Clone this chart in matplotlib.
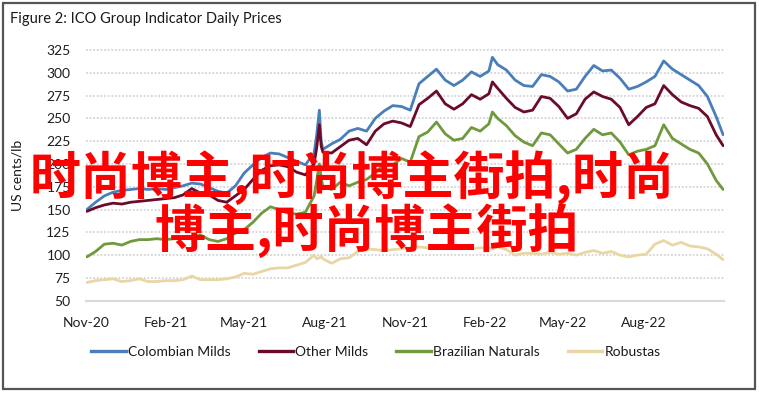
import matplotlib
matplotlib.use('Agg')
import matplotlib.pyplot as plt
from matplotlib.patches import Rectangle
from matplotlib.lines import Line2D
import pandas as pd

# ---------------- data ----------------
dates = [
    '2020-11-02', '2020-11-12', '2020-11-22', '2020-12-02', '2020-12-12', '2020-12-22',
    '2021-01-01', '2021-01-11', '2021-01-21', '2021-01-31', '2021-02-10', '2021-02-20',
    '2021-03-02', '2021-03-12', '2021-03-22', '2021-04-01', '2021-04-11', '2021-04-21',
    '2021-05-01', '2021-05-11', '2021-05-21', '2021-05-31', '2021-06-10', '2021-06-20',
    '2021-06-30', '2021-07-10', '2021-07-20', '2021-07-23', '2021-07-26', '2021-07-28',
    '2021-07-30', '2021-08-09', '2021-08-19', '2021-08-29', '2021-09-08', '2021-09-18',
    '2021-09-28', '2021-10-08', '2021-10-18', '2021-10-28', '2021-11-07', '2021-11-17',
    '2021-11-27', '2021-12-07', '2021-12-17', '2021-12-27', '2022-01-06', '2022-01-16',
    '2022-01-26', '2022-02-05', '2022-02-09', '2022-02-15', '2022-02-25', '2022-03-07',
    '2022-03-17', '2022-03-27', '2022-04-06', '2022-04-16', '2022-04-26', '2022-05-06',
    '2022-05-16', '2022-05-26', '2022-06-05', '2022-06-15', '2022-06-25', '2022-07-05',
    '2022-07-15', '2022-07-25', '2022-08-04', '2022-08-14', '2022-08-24', '2022-09-03',
    '2022-09-13', '2022-09-23', '2022-10-03', '2022-10-13', '2022-10-23', '2022-10-31',
]

colombian_milds = [
    150, 158, 165, 169, 171, 172,
    173, 172, 173, 172, 174, 176,
    179, 178, 174, 170, 168, 176,
    190, 199, 207, 212, 211, 207,
    203, 199, 212, 232, 259, 226,
    216, 222, 227, 236, 239, 236,
    250, 258, 264, 263, 259, 288,
    296, 304, 292, 286, 292, 301,
    296, 302, 317, 309, 303, 292,
    286, 285, 298, 296, 290, 280,
    282, 296, 308, 302, 303, 294,
    282, 285, 290, 296, 313, 304,
    298, 292, 286, 274, 252, 232,
]

other_milds = [
    148, 152, 155, 157, 156, 158,
    159, 160, 161, 162, 163, 166,
    173, 168, 166, 160, 158, 165,
    172, 183, 193, 198, 199, 197,
    191, 188, 200, 218, 243, 220,
    213, 212, 219, 226, 228, 221,
    236, 244, 247, 245, 241, 265,
    272, 280, 266, 260, 266, 276,
    271, 277, 290, 283, 272, 262,
    257, 259, 274, 272, 263, 250,
    255, 271, 279, 274, 271, 262,
    243, 252, 262, 266, 286, 276,
    268, 264, 261, 252, 232, 220,
]

brazilian_naturals = [
    98, 104, 112, 113, 111, 115,
    117, 117, 118, 117, 118, 119,
    120, 122, 117, 115, 118, 124,
    128, 136, 146, 153, 150, 146,
    145, 147, 165, 182, 200, 186,
    175, 172, 180, 176, 180, 183,
    190, 200, 199, 206, 202, 230,
    235, 246, 233, 226, 228, 240,
    236, 244, 257, 250, 242, 231,
    224, 220, 234, 232, 222, 212,
    216, 228, 238, 232, 234, 224,
    210, 214, 216, 220, 243, 228,
    222, 216, 212, 200, 182, 172,
]

robustas = [
    70, 72, 73, 74, 71, 72,
    74, 71, 71, 72, 72, 73,
    77, 73, 73, 73, 74, 76,
    80, 79, 82, 85, 86, 86,
    89, 92, 100, 96, 97, 99,
    96, 91, 96, 97, 104, 107,
    106, 105, 106, 107, 108, 109,
    108, 110, 108, 109, 109, 107,
    108, 108, 107, 109, 106, 100,
    102, 102, 101, 103, 101, 102,
    100, 103, 105, 102, 104, 100,
    98, 100, 101, 112, 116, 111,
    114, 110, 109, 107, 101, 95,
]

series_names = ['Colombian Milds', 'Other Milds', 'Brazilian Naturals', 'Robustas']
series_colors = ['#4a7ebb', '#6b0b2b', '#6e9a3d', '#ead6a4']

y_ticks = [50, 75, 100, 125, 150, 175, 200, 225, 250, 275, 300, 325]
x_tick_dates = ['2020-11-01', '2021-02-01', '2021-05-01', '2021-08-01',
                '2021-11-01', '2022-02-01', '2022-05-01', '2022-08-01']
x_tick_labels = ['Nov-20', 'Feb-21', 'May-21', 'Aug-21',
                 'Nov-21', 'Feb-22', 'May-22', 'Aug-22']
x_range = ['2020-11-01', '2022-11-01']

title = 'Figure 2: ICO Group Indicator Daily Prices'
y_label = 'US cents/lb'
overlay_lines = ['时尚博主,时尚博主街拍,时尚', '博主,时尚博主街拍']

# ---------------- drawing ----------------
plt.rcParams['font.family'] = ['Lato', 'DejaVu Sans']

W, H = 759, 393
fig = plt.figure(figsize=(W / 100, H / 100), dpi=100)
fig.patch.set_facecolor('white')

ax = fig.add_axes([86 / W, 1 - 300.7 / H, (724 - 86) / W, (300.7 - 50) / H])
x = pd.to_datetime(dates)
all_series = [colombian_milds, other_milds, brazilian_naturals, robustas]
for vals, name, col in zip(all_series, series_names, series_colors):
    ax.plot(x, vals, color=col, lw=2.0, label=name,
            solid_joinstyle='round', solid_capstyle='round', zorder=3)

ax.set_xlim(pd.to_datetime(x_range[0]), pd.to_datetime(x_range[1]))
ax.set_ylim(y_ticks[0], y_ticks[-1])
ax.set_yticks(y_ticks)
ax.set_xticks(pd.to_datetime(x_tick_dates))
ax.set_xticklabels(x_tick_labels)

for s in ['top', 'right', 'left']:
    ax.spines[s].set_visible(False)
ax.spines['bottom'].set_color('#d9d9d9')
ax.spines['bottom'].set_linewidth(1.5)

ax.tick_params(axis='both', length=0, labelsize=10, colors='#1e1e1e')
ax.tick_params(axis='y', pad=11)
ax.tick_params(axis='x', pad=12)

ax.yaxis.grid(True, color='#d4d4d4', lw=1.3, linestyle=(0, (1, 1)))
ax.set_axisbelow(True)
for gl in ax.get_ygridlines():
    gl.set_clip_on(False)

# title and y label
fig.text(10 / W, 1 - 22.5 / H, title, fontsize=10.5, va='baseline', ha='left',
         color='#1a1a1a')
fig.text(17 / W, 1 - 175 / H, y_label, fontsize=10, rotation=90,
         va='center', ha='center', color='#1a1a1a')

# legend
handles = [Line2D([0], [0], color=c, lw=2.4) for c in series_colors]
fig.legend(handles, series_names, loc='center', bbox_to_anchor=(376 / W, 1 - 352 / H),
           ncol=4, frameon=False, handlelength=2.5, handletextpad=0.15,
           columnspacing=2.0, fontsize=10, labelcolor='#1a1a1a')

# overlay text
fig.text(30 / W, 1 - 194 / H, overlay_lines[0], fontsize=36.7, color='#ff0000',
         family=['Noto Sans CJK SC', 'DejaVu Sans'], weight='bold',
         va='baseline', ha='left', zorder=10)
fig.text(154 / W, 1 - 247 / H, overlay_lines[1], fontsize=36.7, color='#ff0000',
         family=['Noto Sans CJK SC', 'DejaVu Sans'], weight='bold',
         va='baseline', ha='left', zorder=10)

# outer frame
fig.patches.append(Rectangle((3 / W, 4 / H), 752 / W, 386.5 / H,
                             transform=fig.transFigure, fill=False,
                             edgecolor='#555555', lw=1.6))

fig.savefig('out.png', dpi=100, facecolor='white')
